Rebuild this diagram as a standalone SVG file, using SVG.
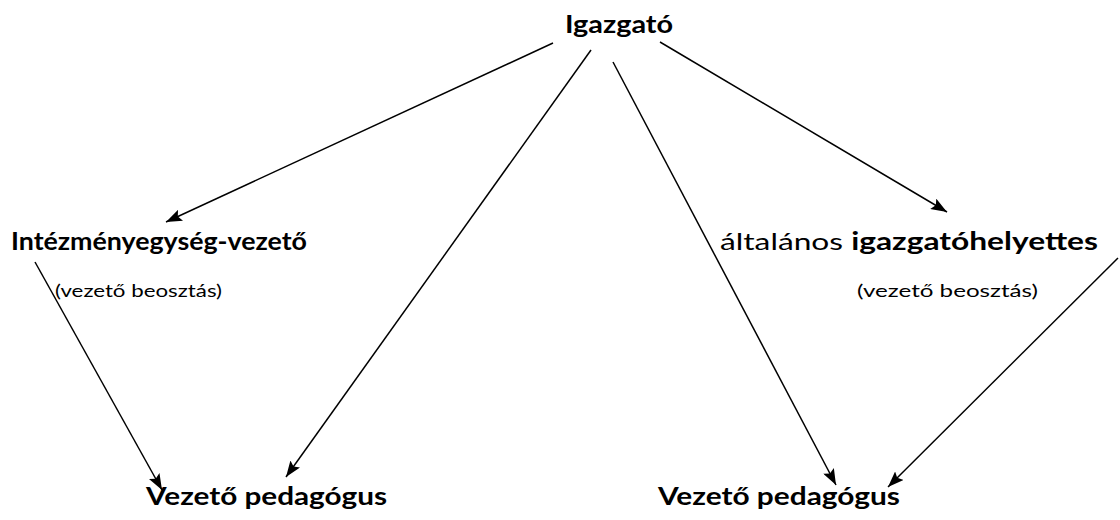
<svg xmlns="http://www.w3.org/2000/svg" width="1120" height="520" viewBox="0 0 1120 520">
<defs>
<marker id="ah" viewBox="0 0 16 12" refX="16" refY="6" markerWidth="16" markerHeight="12" markerUnits="userSpaceOnUse" orient="auto">
<path d="M0,0 L16,6 L0,12 L3,6 Z" fill="#000"/>
</marker>
</defs>
<style>
text{font-family:Lato,"Noto Sans",sans-serif;fill:#000}
.b{font-weight:bold;font-size:24px}
.n{font-size:24px}
.s{font-size:18px}
.c{stroke:#000;stroke-width:1.5;fill:none;marker-end:url(#ah)}
</style>
<rect width="1120" height="520" fill="#fff"/>
<g id="connectors">
<line class="c" x1="553" y1="43" x2="166" y2="222"/>
<line class="c" x1="591" y1="50" x2="286" y2="477"/>
<line class="c" x1="613" y1="62" x2="836" y2="485"/>
<line class="c" x1="660" y1="42" x2="947" y2="212"/>
<line class="c" x1="35" y1="262" x2="162" y2="490"/>
<line class="c" x1="1118" y1="258" x2="888" y2="487"/>
</g>
<g id="igazgato"><text class="b" x="565" y="33" textLength="108" lengthAdjust="spacingAndGlyphs">Igazgató</text></g>
<g id="intezmenyegyseg-vezeto">
<text class="b" x="11" y="250" textLength="296" lengthAdjust="spacingAndGlyphs">Intézményegység-vezető</text>
<text class="s" x="55" y="297" textLength="167" lengthAdjust="spacingAndGlyphs">(vezető beosztás)</text>
</g>
<g id="igazgatohelyettes">
<text class="n" x="720" y="250" textLength="378" lengthAdjust="spacingAndGlyphs">általános <tspan font-weight="bold">igazgatóhelyettes</tspan></text>
<text class="s" x="857" y="297" textLength="181" lengthAdjust="spacingAndGlyphs">(vezető beosztás)</text>
</g>
<g id="vezeto-pedagogus-1"><text class="b" x="146" y="505" textLength="241" lengthAdjust="spacingAndGlyphs">Vezető pedagógus</text></g>
<g id="vezeto-pedagogus-2"><text class="b" x="658" y="505" textLength="242" lengthAdjust="spacingAndGlyphs">Vezető pedagógus</text></g>
</svg>
